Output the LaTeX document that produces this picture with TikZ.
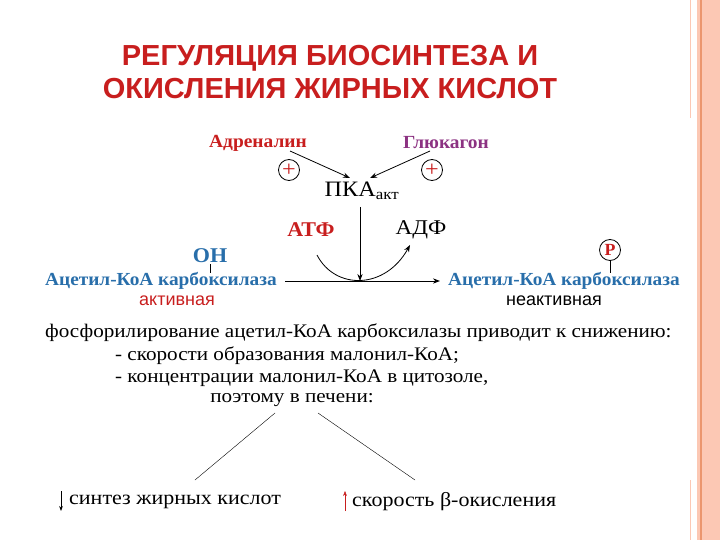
\documentclass[tikz,border=0pt]{standalone}
\usepackage{fontspec}
\setmainfont{Liberation Serif}[FakeStretch=1.1]
\newfontfamily\sansf{Liberation Sans}
\newfontfamily\boldserif{Liberation Serif}[FakeStretch=1.05]
\usetikzlibrary{arrows.meta}
\definecolor{tred}{RGB}{200,30,30}
\definecolor{tblue}{RGB}{40,110,170}
\definecolor{tpurp}{RGB}{140,50,130}
\definecolor{salmon}{RGB}{252,200,180}
\definecolor{orng}{RGB}{235,150,110}
\begin{document}
\begin{tikzpicture}[x=1pt,y=-1pt,
  body/.style={inner sep=0pt,font=\fontsize{19.2}{19.2}\selectfont},
  enz/.style={inner sep=0pt,text=tblue,font=\boldserif\fontsize{18.4}{18.4}\selectfont\bfseries},
  hormone/.style={inner sep=0pt,font=\boldserif\fontsize{18.5}{18.5}\selectfont\bfseries},
  plus/.style={circle,draw,thick,inner sep=0pt,minimum size=21pt,text=tred,font=\fontsize{22}{22}\selectfont},
  arr/.style={-{Stealth[length=7pt]},thick},
  lab/.style={inner sep=0pt,font=\sansf\fontsize{18}{18}\selectfont}]
\useasboundingbox (0,0) rectangle (720,540);
\fill[salmon] (697,0) rectangle (720,540);
\draw[orng,line width=1.2pt] (701,0) -- (701,540);
\draw[salmon,line width=1pt] (690,0) -- (690,118) (690,480) -- (690,540);
\node[inner sep=0pt,text=tred,font=\sansf\fontsize{29}{29}\selectfont\bfseries,align=center] (title) at (330,72) {РЕГУЛЯЦИЯ БИОСИНТЕЗА И\\[4pt]ОКИСЛЕНИЯ ЖИРНЫХ КИСЛОТ};
\node[hormone,text=tred] (adr) at (258,143) {Адреналин};
\node[hormone,text=tpurp] (glu) at (446,143) {Глюкагон};
\node[plus] (p1) at (289,170) {+};
\node[plus] (p2) at (432,170) {+};
\node[body,font=\fontsize{22}{22}\selectfont] (pka) at (362,191) {ПКА\textsubscript{акт}};
\coordinate (a1) at (290,151);
\coordinate (g1) at (430,151);
\draw[arr] (a1) -- (350,178);
\draw[arr] (g1) -- (370,178);
\node[hormone,text=tred,font=\boldserif\fontsize{21}{21}\selectfont\bfseries] (atp) at (311,230) {АТФ};
\node[body,font=\fontsize{21}{21}\selectfont] (adp) at (421,230) {АДФ};
\node[enz] (e1) at (161,281) {Ацетил-КоА карбоксилаза};
\node[enz] (e2) at (564,281) {Ацетил-КоА карбоксилаза};
\draw[arr] ([xshift=8pt]e1.east) -- ([xshift=-8pt]e2.west);
\coordinate (bot) at (360,281);
\draw[arr] (360,207) -- (bot);
\draw[arr] (317,255) .. controls (335,290) and (385,290) .. (410,245);
\node[enz,font=\boldserif\fontsize{21}{21}\selectfont\bfseries] (oh) at (210,256) {ОН};
\draw (oh.south) ++(0,1) -- (210,273);
\node[circle,draw,thick,inner sep=0pt,minimum size=21pt,text=tred,font=\boldserif\fontsize{17}{17}\selectfont\bfseries] (P) at (610,250) {P};
\draw (P.south) -- (610,273);
\node[lab,text=tred] (act) at (177,301) {активная};
\node[lab] (inact) at (554,301) {неактивная};
\node[body,anchor=west] (t1) at (45,333) {фосфорилирование ацетил-КоА карбоксилазы приводит к снижению:};
\node[body,anchor=west] (t2) at (115,356) {- скорости образования малонил-КоА;};
\node[body,anchor=west] (t3) at (115,378) {- концентрации малонил-КоА в цитозоле,};
\node[body] (t4) at (292,400) {поэтому в печени:};
\coordinate (l1) at (195,480);
\coordinate (l2) at (415,480);
\draw (275,413) -- (l1);
\draw (318,413) -- (l2);
\node[body,anchor=west,font=\fontsize{20}{20}\selectfont] (s1) at (69,502) {синтез жирных кислот};
\node[body,anchor=west,font=\fontsize{20}{20}\selectfont] (s2) at (352,502) {скорость β-окисления};
\draw[-{Stealth[length=5pt]},thick] (61,491) -- (61,511);
\draw[-{Stealth[length=5pt]},tred] (345,511) -- (345,491);
\end{tikzpicture}
\end{document}
